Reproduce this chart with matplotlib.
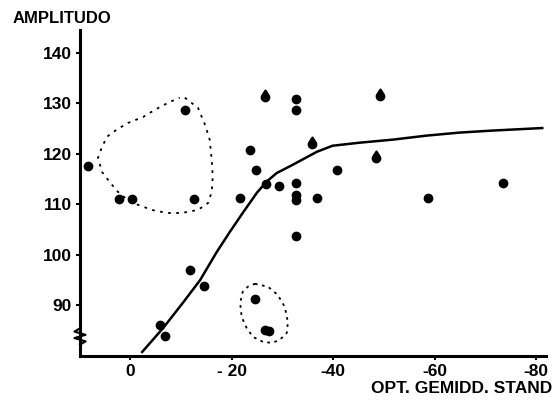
import numpy as np
import matplotlib
matplotlib.use('Agg')
from matplotlib import pyplot as plt

plt.rcParams['font.family'] = ['Liberation Sans', 'DejaVu Sans']

# measured points (x = opt. gemidd. stand, y = amplitudo)
pts_x = [8.3, 2.2, -0.4, -10.8, -12.6, -11.8, -14.6, -5.9, -6.9,
         -26.6, -32.7, -32.7, -49.2, -23.6, -35.8, -48.4, -24.8, -40.7,
         -26.8, -29.3, -32.7, -21.7, -32.7, -32.7, -36.8, -58.7, -73.4,
         -32.7, -24.6, -26.6, -27.4]
pts_y = [117.6, 111.1, 111.1, 128.7, 111.1, 97.0, 93.9, 86.1, 84.0,
         131.3, 130.9, 128.7, 131.5, 120.8, 122.0, 119.2, 116.8, 116.8,
         114.1, 113.7, 114.3, 111.3, 111.9, 110.9, 111.3, 111.3, 114.3,
         103.8, 91.3, 85.2, 85.0]

# points with an arrow (value is a lower bound)
arrow_x = [-26.6, -49.2, -35.8, -48.4]
arrow_y = [131.3, 131.5, 122.0, 119.2]

# fitted curve
curve_x = [-2.4, -6.5, -10.4, -13.8, -17.1, -19.7, -22.2, -25.0, -26.9,
           -28.9, -32.0, -36.8, -39.9, -45.2, -51.7, -58.4, -64.9, -71.4,
           -81.2]
curve_y = [80.8, 85.5, 90.5, 95.0, 100.6, 104.6, 108.3, 112.3, 114.5,
           116.2, 117.8, 120.4, 121.6, 122.2, 122.8, 123.6, 124.2, 124.6,
           125.1]

# dotted groupings
loop1_x = [-10.8, -13.4, -14.8, -15.7, -16.1, -16.3, -16.1, -15.4, -13.4,
           -10.2, -7.3, -4.3, 0.0, 2.4, 3.9, 5.5, 6.3, 5.5, 4.5, 2.6, 0.4,
           -2.6, -4.9, -7.5, -9.8]
loop1_y = [131.1, 129.1, 125.7, 122.8, 118.8, 115.4, 112.5, 110.3, 108.9,
           108.3, 108.3, 108.9, 110.5, 112.5, 114.3, 116.4, 119.2, 121.4,
           123.4, 124.8, 126.1, 127.3, 128.7, 130.1, 131.1]
loop2_x = [-24.6, -27.2, -29.1, -30.5, -31.1, -30.9, -29.5, -28.0, -26.2,
           -24.2, -23.0, -22.0, -21.7, -22.2, -23.2, -24.6]
loop2_y = [94.3, 93.7, 92.1, 89.7, 86.7, 84.6, 83.2, 82.6, 82.8, 83.8,
           85.5, 87.7, 90.5, 92.7, 93.7, 94.3]

xticks = [0, -20, -40, -60, -80]
xtick_labels = ['0', '- 20', '-40', '-60', '-80']
yticks = [90, 100, 110, 120, 130, 140]

fig = plt.figure(figsize=(5.53, 4.03), dpi=100)
ax = fig.add_axes([0.1447, 0.1166, 0.8423, 0.809])

ax.plot(curve_x, curve_y, color='black', lw=1.8)
ax.plot(loop1_x, loop1_y, color='black', lw=1.3, ls=(0, (1.5, 3)))
ax.plot(loop2_x, loop2_y, color='black', lw=1.3, ls=(0, (1.5, 2.5)))
ax.scatter(pts_x, pts_y, s=36, color='black', zorder=3)
ax.scatter(arrow_x, np.array(arrow_y) + 1.4, s=12, marker=6, color='black', zorder=3)

ax.set_xlim(9.84, -81.9)
ax.set_ylim(80, 144.5)
ax.set_xticks(xticks)
ax.set_xticklabels(xtick_labels)
ax.set_yticks(yticks)
for s in ['top', 'right']:
    ax.spines[s].set_visible(False)
ax.spines['left'].set_linewidth(2.2)
ax.spines['bottom'].set_linewidth(2.2)
ax.tick_params(axis='both', length=3, width=1.5, labelsize=12.5, pad=3)
for lab in ax.get_xticklabels() + ax.get_yticklabels():
    lab.set_fontweight('bold')

# axis break mark
ax.plot([0.0, -0.012, 0.012, -0.012, 0.012, 0.0],
        [0.085, 0.075, 0.065, 0.055, 0.045, 0.035],
        transform=ax.transAxes, color='black', lw=1.5, clip_on=False)

fig.text(0.022, 0.953, 'AMPLITUDO', fontsize=12, fontweight='bold', va='center')
fig.text(0.998, 0.037, 'OPT. GEMIDD. STAND', fontsize=12.5, fontweight='bold',
         ha='right', va='center')

fig.savefig('out.png')
